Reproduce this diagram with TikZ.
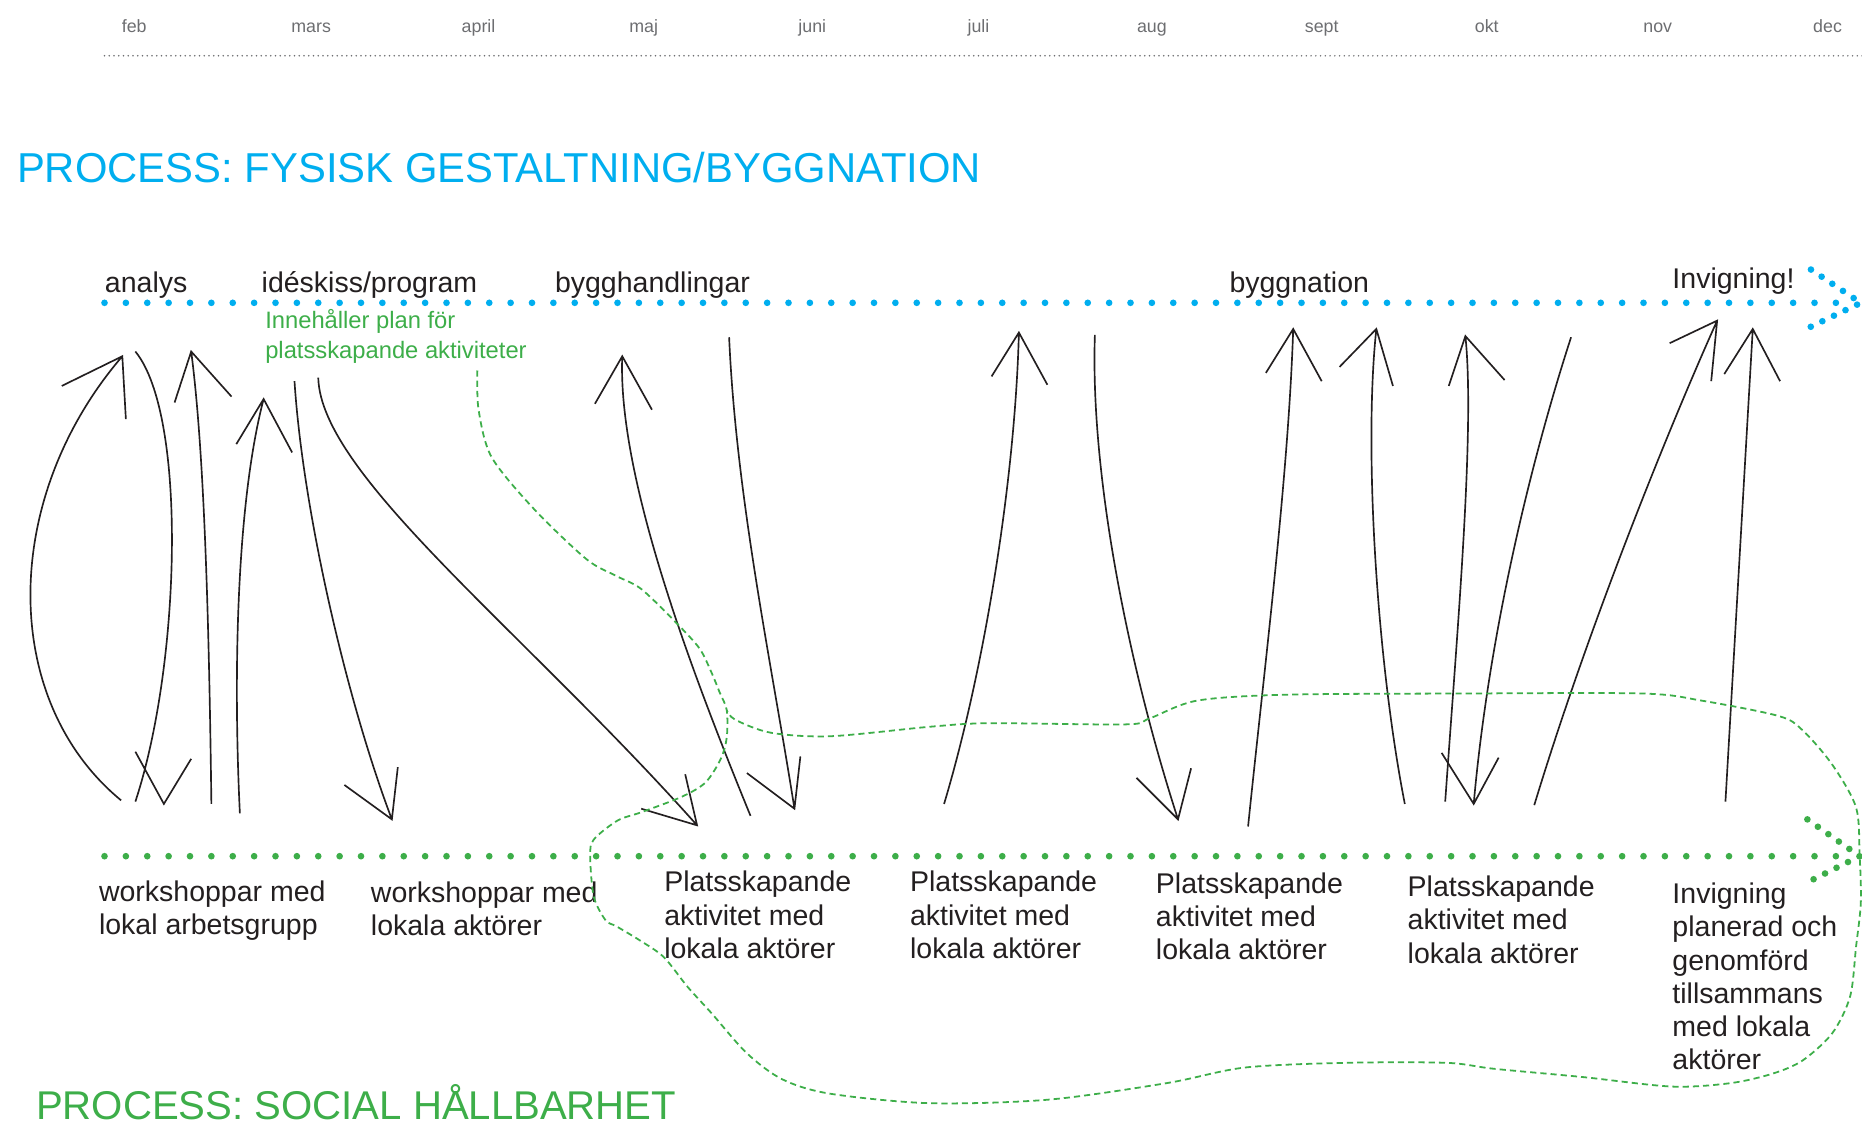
\documentclass[tikz,border=0pt]{standalone}
\usepackage{fontspec}
\setmainfont{Liberation Sans}
\definecolor{blaa}{HTML}{00AEEF}
\definecolor{groen}{HTML}{3DAE49}
\definecolor{svart}{HTML}{231F20}
\definecolor{graa}{HTML}{6D6E71}

\begin{document}
\begin{tikzpicture}[x=0.5pt, y=-0.5pt,
            sketch/.style={draw=svart, line width=0.7pt, line join=miter},
            dotline/.style={line width=2.8pt, line cap=round, dash pattern=on 0pt off 9pt},
            dotturn/.style={line width=2.8pt, line cap=round, dash pattern=on 0pt off 5.4pt},
            month/.style={anchor=base, text=graa, font=\fontsize{7.5}{9}\selectfont},
            lbl/.style={align=left, font=\fontsize{12}{14}\selectfont}]
        \useasboundingbox (0,0) rectangle (1568,948);
        \tikzstyle{every node}=[inner sep=0pt, anchor=base west, text=svart]
        % months
        \node[month] (feb) at (113,27) {feb}; \node[month] (mars) at (262,27) {mars};
        \node[month] (april) at (403,27) {april}; \node[month] (maj) at (542,27) {maj};
        \node[month] (juni) at (684,27) {juni}; \node[month] (juli) at (824,27) {juli};
        \node[month] (aug) at (970,27) {aug}; \node[month] (sept) at (1113,27) {sept};
        \node[month] (okt) at (1252,27) {okt}; \node[month] (nov) at (1396,27) {nov};
        \node[month] (dec) at (1539,27) {dec};
        \coordinate (tid0) at (88,47); \coordinate (tid1) at (1568,47);
        \draw[graa, line width=0.7pt, line cap=round, dash pattern=on 0pt off 2pt] (tid0) -- (tid1);

        % fysisk process
        \node[text=blaa, font=\fontsize{17.6}{20}\selectfont] (fysisk) at (14,154) {PROCESS: FYSISK GESTALTNING/BYGGNATION};
        \coordinate (f0) at (88,255); \coordinate (f1) at (1551,255);
        \coordinate (fa) at (1525,227); \coordinate (fs) at (1567,255); \coordinate (fb) at (1521,277);
        \draw[blaa, dotline] (f0) -- (f1);
        \draw[blaa, dotturn] (fa) -- (fs) -- (fb);
        \node[lbl] (analys) at (88,246) {analys};
        \node[lbl] (ideskiss) at (220,246) {idéskiss/program};
        \node[lbl] (bygghandl) at (467,246) {bygghandlingar};
        \node[lbl] (byggnation) at (1035,246) {byggnation};
        \node[lbl] (invigning) at (1408,243) {Invigning!};
        % base = last line
        \node[align=left, text=groen, font=\fontsize{10}{12.5}\selectfont] (plan) at (223,302)
            {Innehåller plan för\\platsskapande aktiviteter};

        % social process
        \coordinate (s0) at (88,721); \coordinate (s1) at (1551,721);
        \coordinate (sa) at (1522,690); \coordinate (ss) at (1566,721); \coordinate (sb) at (1518,745);
        \draw[groen, dotline] (s0) -- (s1);
        \draw[groen, dotturn] (sa) -- (ss) -- (sb);
        \node[lbl] (ws1) at (83,787) {workshoppar med\\lokal arbetsgrupp};
        \node[lbl] (ws2) at (312,788) {workshoppar med\\lokala aktörer};
        \node[lbl] (plats1) at (559,807) {Platsskapande\\aktivitet med\\lokala aktörer};
        \node[lbl] (plats2) at (766,807) {Platsskapande\\aktivitet med\\lokala aktörer};
        \node[lbl] (plats3) at (973,808) {Platsskapande\\aktivitet med\\lokala aktörer};
        \node[lbl] (plats4) at (1185,811) {Platsskapande\\aktivitet med\\lokala aktörer};
        \node[lbl] (inv) at (1408,901) {Invigning\\planerad och\\genomförd\\tillsammans\\med lokala\\aktörer};
        \node[text=groen, font=\fontsize{16.9}{20}\selectfont] (social) at (30,943) {PROCESS: SOCIAL HÅLLBARHET};

        % pilar mellan processerna
        \coordinate (b1) at (102,674); \coordinate (t1) at (103,300);
        \coordinate (b2) at (114,296); \coordinate (t2) at (114,675); \coordinate (v2) at (138,677);
        \coordinate (b3) at (178,677); \coordinate (t3) at (161,296);
        \coordinate (b4) at (202,685); \coordinate (t4) at (222,336);
        \coordinate (b5) at (248,321); \coordinate (t5) at (330,690);
        \coordinate (b6) at (268,318); \coordinate (t6) at (587,695);
        \coordinate (b7) at (632,687); \coordinate (t7) at (524,300);
        \coordinate (b8) at (614,284); \coordinate (t8) at (669,681);
        \coordinate (b9) at (795,677); \coordinate (t9) at (858,280);
        \coordinate (b10) at (922,282); \coordinate (t10) at (992,690);
        \coordinate (b11) at (1051,696); \coordinate (t11) at (1089,277);
        \coordinate (b12) at (1183,677); \coordinate (t12) at (1159,277);
        \coordinate (b13) at (1217,675); \coordinate (t13) at (1234,283);
        \coordinate (b14) at (1323,284); \coordinate (t14) at (1241,677);
        \coordinate (b15) at (1292,678); \coordinate (t15) at (1446,270);
        \coordinate (b16) at (1453,675); \coordinate (t16) at (1476,277);
        \draw[sketch] (b1) .. controls (0,590) and (0,420) .. (t1) (52,325) -- (t1) -- (106,353);
        \draw[sketch] (b2) .. controls (158,350) and (152,560) .. (t2) (114,633) -- (v2) -- (161,639);
        \draw[sketch] (b3) .. controls (176,520) and (172,380) .. (t3) (147,339) -- (t3) -- (195,334);
        \draw[sketch] (b4) .. controls (196,560) and (200,420) .. (t4) (199,374) -- (t4) -- (246,381);
        \draw[sketch] (b5) .. controls (255,430) and (292,590) .. (t5) (290,661) -- (t5) -- (335,646);
        \draw[sketch] (b6) .. controls (270,400) and (440,530) .. (t6) (540,681) -- (t6) -- (577,652);
        \draw[sketch] (b7) .. controls (580,560) and (520,400) .. (t7) (501,340) -- (t7) -- (549,345);
        \draw[sketch] (b8) .. controls (620,420) and (650,560) .. (t8) (629,651) -- (t8) -- (674,637);
        \draw[sketch] (b9) .. controls (830,560) and (855,400) .. (t9) (835,317) -- (t9) -- (882,324);
        \draw[sketch] (b10) .. controls (918,400) and (950,560) .. (t10) (957,655) -- (t10) -- (1003,647);
        \draw[sketch] (b11) .. controls (1065,560) and (1085,400) .. (t11) (1066,314) -- (t11) -- (1113,321);
        \draw[sketch] (b12) .. controls (1160,560) and (1148,380) .. (t12) (1128,309) -- (t12) -- (1173,325);
        \draw[sketch] (b13) .. controls (1228,520) and (1242,360) .. (t13) (1220,325) -- (t13) -- (1267,320);
        \draw[sketch] (b14) .. controls (1295,370) and (1255,520) .. (t14) (1214,634) -- (t14) -- (1262,638);
        \draw[sketch] (b15) .. controls (1340,520) and (1410,350) .. (t15) (1406,289) -- (t15) -- (1441,321);
        \draw[sketch] (b16) -- (t16) (1452,315) -- (t16) -- (1499,321);

        % platsskapande aktiviteter
        \draw[groen, line width=0.75pt, dash pattern=on 2.6pt off 1.7pt] plot[smooth, tension=0.5] coordinates {
            (402,312) (403,345) (414,385) (450,429) (494,471) (519,485) (540,496) (569,524) (589,546)
            (599,566) (606,583) (612,598) (612,621) (607,639) (594,659) (574,671) (540,684) (520,691)
            (500,707) (497,721) (500,755) (510,775) (519,780) (539,792) (559,806) (579,831) (599,853)
            (629,887) (659,909) (699,921) (783,929) (883,926) (983,912) (1048,899) (1133,895) (1218,895)
            (1258,900) (1333,907) (1408,915) (1458,912) (1493,904) (1518,893) (1543,870) (1558,839)
            (1563,797) (1567,760) (1566,720) (1563,680) (1543,644) (1518,615) (1498,603) (1433,590)
            (1383,584) (1233,584) (1083,585) (1008,590) (968,605) (948,610) (833,609) (783,612)
            (699,620) (649,617) (619,606) (612,598)};
    \end{tikzpicture}
\end{document}
